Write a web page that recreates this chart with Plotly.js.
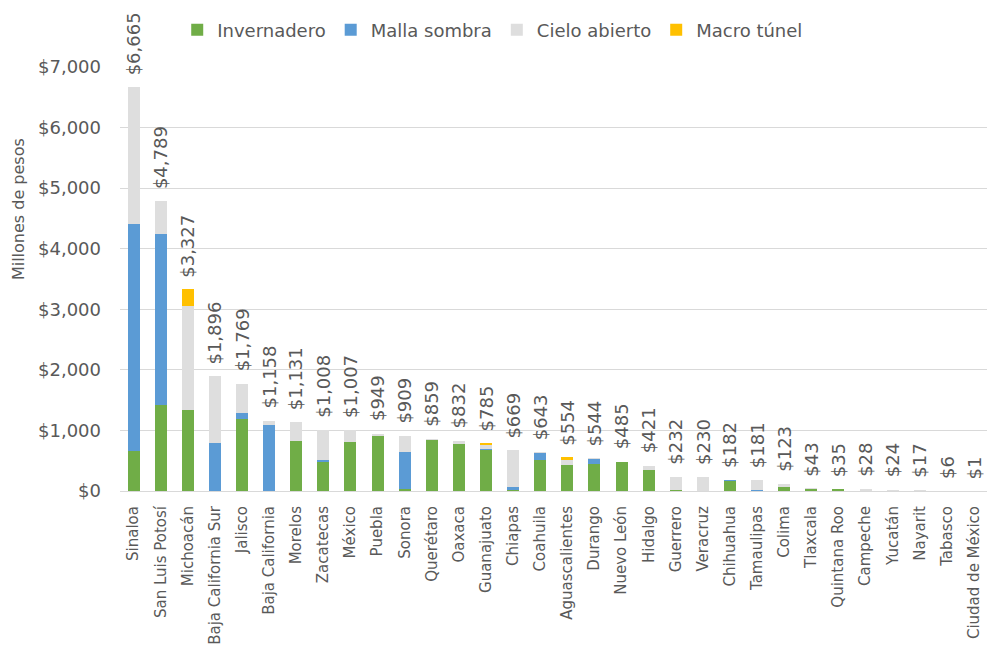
<!DOCTYPE html>
<html>
<head>
<meta charset="utf-8">
<script src="https://cdn.plot.ly/plotly-3.0.1.min.js"></script>
<style>
html,body{margin:0;padding:0;background:#fff;overflow:hidden;}
#chart{width:987px;height:646px;}
</style>
</head>
<body>
<div id="chart"></div>
<script>
var states = ["Sinaloa","San Luis Potosí","Michoacán","Baja California Sur","Jalisco","Baja California","Morelos","Zacatecas","México","Puebla","Sonora","Querétaro","Oaxaca","Guanajuato","Chiapas","Coahuila","Aguascalientes","Durango","Nuevo León","Hidalgo","Guerrero","Veracruz","Chihuahua","Tamaulipas","Colima","Tlaxcala","Quintana Roo","Campeche","Yucatán","Nayarit","Tabasco","Ciudad de México"];
var invernadero = [655,1420,1337,0,1183,0,825,484,814,900,40,835,771,680,10,520,430,445,478,340,15,0,165,0,60,38,30,0,0,0,0,1];
var mallaSombra = [3753,2823,0,787,110,1090,0,28,0,0,604,0,0,15,55,112,0,90,0,0,0,0,10,20,0,0,0,0,0,0,0,0];
var cieloAbierto = [2257,546,1723,1109,476,68,306,496,193,35,265,24,61,65,604,11,80,9,7,81,217,230,7,161,63,5,5,28,24,17,6,0];
var macroTunel = [0,0,267,0,0,0,0,0,0,14,0,0,0,25,0,0,44,0,0,0,0,0,0,0,0,0,0,0,0,0,0,0];
var totals = [6665,4789,3327,1896,1769,1158,1131,1008,1007,949,909,859,832,785,669,643,554,544,485,421,232,230,182,181,123,43,35,28,24,17,6,1];
var yTicks = [0,1000,2000,3000,4000,5000,6000,7000];
var yTickText = ["$0","$1,000","$2,000","$3,000","$4,000","$5,000","$6,000","$7,000"];

var FONT = "DejaVu Sans";
var GREY = "#595959";

function barTrace(name, vals, color){
  return {type:"bar", name:name, x:states, y:vals, marker:{color:color}, hoverinfo:"skip"};
}
var data = [
  barTrace("Invernadero", invernadero, "#70AD47"),
  barTrace("Malla sombra", mallaSombra, "#5B9BD5"),
  barTrace("Cielo abierto", cieloAbierto, "#DEDEDE"),
  barTrace("Macro túnel", macroTunel, "#FFC000")
];

var annotations = states.map(function(s,i){
  return {x:s, y:totals[i], xref:"x", yref:"y", text:"$"+totals[i].toLocaleString("en-US"),
    textangle:-90, showarrow:false, xanchor:"center", yanchor:"bottom", yshift:10,
    font:{family:FONT, size:18, color:GREY}};
});
annotations.push({xref:"paper", yref:"paper", x:-0.1176, y:0.665, xanchor:"center", yanchor:"middle",
  text:"Millones de pesos", textangle:-90, showarrow:false, font:{family:FONT, size:16, color:GREY}});

var layout = {
  width:987, height:646,
  margin:{l:120, r:0, t:67, b:155},
  barmode:"stack", bargap:0.56,
  paper_bgcolor:"#fff", plot_bgcolor:"#fff",
  font:{family:FONT, color:GREY},
  showlegend:true,
  legend:{orientation:"h", x:0.066, xanchor:"left", y:1.087, yanchor:"middle",
    font:{family:FONT, size:18, color:GREY}, bgcolor:"rgba(0,0,0,0)", traceorder:"normal"},
  xaxis:{type:"category", range:[-0.5, 31.48], tickangle:-90, ticks:"", showgrid:false,
    showline:true, linecolor:"#D9D9D9", linewidth:1, ticklabelstandoff:8,
    tickfont:{family:FONT, size:15, color:GREY}, fixedrange:true},
  yaxis:{range:[0,7000], tickmode:"array", tickvals:yTicks, ticktext:yTickText, ticks:"",
    showgrid:true, gridcolor:"#D9D9D9", gridwidth:1, zeroline:false, showline:false,
    ticklabelstandoff:18, tickfont:{family:FONT, size:18, color:GREY}, fixedrange:true},
  annotations:annotations
};
Plotly.newPlot("chart", data, layout, {displayModeBar:false, staticPlot:true});
</script>
</body>
</html>
